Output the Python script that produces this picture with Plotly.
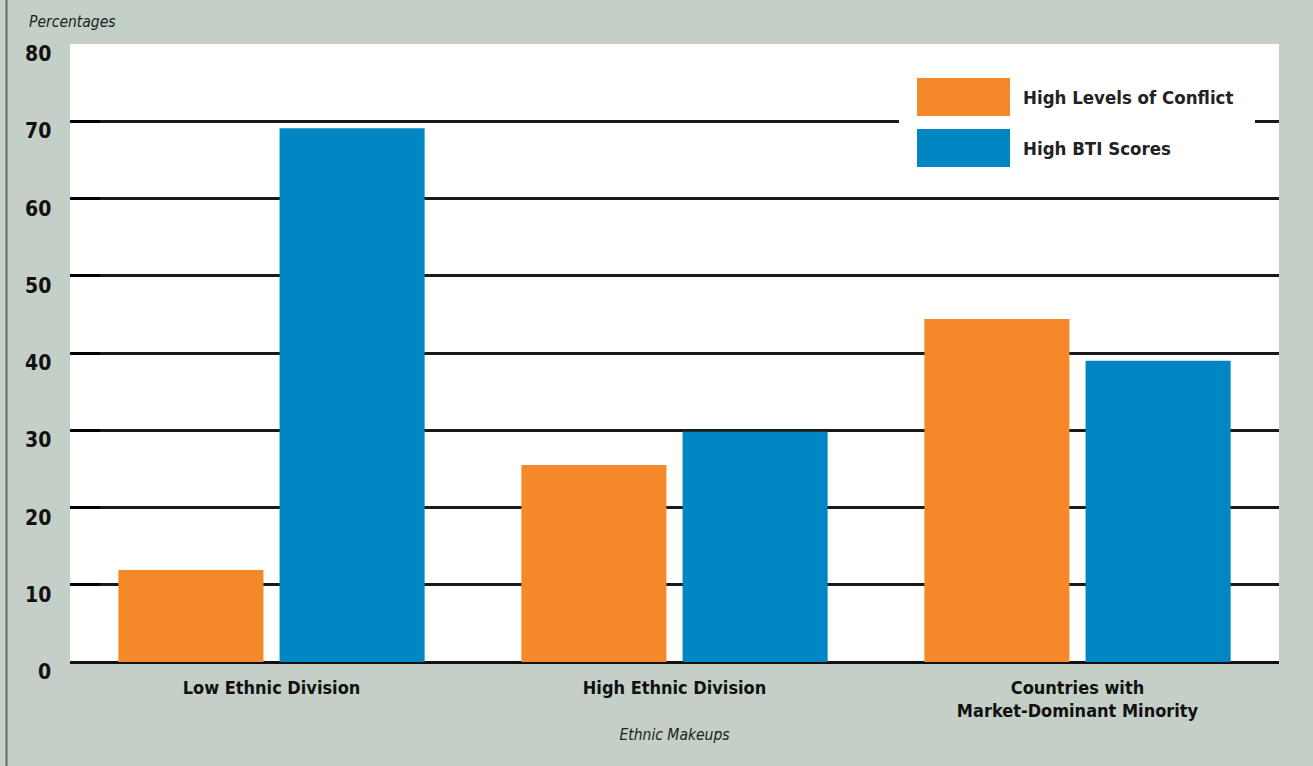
import plotly.graph_objects as go

# Data
categories = ["Low Ethnic Division", "High Ethnic Division",
              "Countries with<br>Market-Dominant Minority"]
series_names = ["High Levels of Conflict", "High BTI Scores"]
conflict_values = [11.9, 25.5, 44.4]
bti_values = [69.1, 29.8, 39.0]
y_ticks = [0, 10, 20, 30, 40, 50, 60, 70, 80]

ORANGE = "#F5892A"
BLUE = "#0087C3"
BG = "#C4CFC7"
FONT = "Liberation Sans Narrow, DejaVu Sans Condensed, Arial Narrow, sans-serif"

fig = go.Figure()
fig.add_trace(go.Bar(x=categories, y=conflict_values, name=series_names[0],
                     marker=dict(color=ORANGE, line=dict(width=0))))
fig.add_trace(go.Bar(x=categories, y=bti_values, name=series_names[1],
                     marker=dict(color=BLUE, line=dict(width=0))))

W, H = 1313, 766
L, R, T, B = 70, 34, 44, 104
pw, ph = W - L - R, H - T - B


def px_x(px):
    return (px - L) / pw


def px_y(py):
    return (H - B - py) / ph


fig.update_layout(
    width=W, height=H,
    margin=dict(l=L, r=R, t=T, b=B),
    paper_bgcolor=BG,
    plot_bgcolor="white",
    barmode="group",
    bargap=0.2,
    bargroupgap=0.1,
    showlegend=False,
    font=dict(family=FONT, color="#111111"),
)

fig.update_xaxes(
    range=[-0.5, 2.5],
    showgrid=False,
    zeroline=False,
    showline=False,
    ticks="",
    tickfont=dict(size=18, family=FONT, color="#111111", weight="bold"),
    ticklabelstandoff=13,
    title=dict(text="<i>Ethnic Makeups</i>", standoff=8,
               font=dict(size=15.5, family=FONT, color="#222222")),
)

fig.update_yaxes(
    range=[0, 80],
    tickvals=y_ticks,
    showticklabels=False,
    showgrid=True,
    gridcolor="#1a1a1a",
    gridwidth=2.5,
    zeroline=True,
    zerolinecolor="#111111",
    zerolinewidth=3,
    ticks="inside",
    ticklen=30,
    tickwidth=3,
    tickcolor="#000000",
    showline=False,
)

annotations = []
# y tick labels, set slightly below each gridline
for v in y_ticks:
    annotations.append(dict(
        x=px_x(53), xref="paper", y=v, yref="y", yshift=-10,
        text=f"<b>{v}</b>", showarrow=False, xanchor="right", yanchor="middle",
        font=dict(size=21, family=FONT, color="#111111"),
    ))

# y-axis caption
annotations.append(dict(
    x=px_x(27), xref="paper", y=px_y(22), yref="paper",
    text="<i>Percentages</i>", showarrow=False, xanchor="left", yanchor="middle",
    font=dict(size=15.5, family=FONT, color="#222222"),
))

shapes = []
# left frame rule
shapes.append(dict(type="line", xref="paper", yref="paper",
                   x0=px_x(6.5), x1=px_x(6.5), y0=px_y(0), y1=px_y(H),
                   line=dict(color="#666666", width=2)))

# legend panel
shapes.append(dict(type="rect", xref="paper", yref="paper",
                   x0=px_x(899), x1=px_x(1255), y0=px_y(185), y1=px_y(62),
                   fillcolor="white", line=dict(width=0), layer="above"))
legend_rows = [(series_names[0], ORANGE, 78, 116), (series_names[1], BLUE, 129, 167)]
for name, color, top, bot in legend_rows:
    shapes.append(dict(type="rect", xref="paper", yref="paper",
                       x0=px_x(917), x1=px_x(1010), y0=px_y(bot), y1=px_y(top),
                       fillcolor=color, line=dict(width=0), layer="above"))
    annotations.append(dict(
        x=px_x(1021), xref="paper", y=px_y((top + bot) / 2), yref="paper",
        text=f"<b>{name}</b>", showarrow=False, xanchor="left", yanchor="middle",
        font=dict(size=18.5, family=FONT, color="#222222"),
    ))

fig.update_layout(annotations=annotations, shapes=shapes)

fig.write_html("out.html")
